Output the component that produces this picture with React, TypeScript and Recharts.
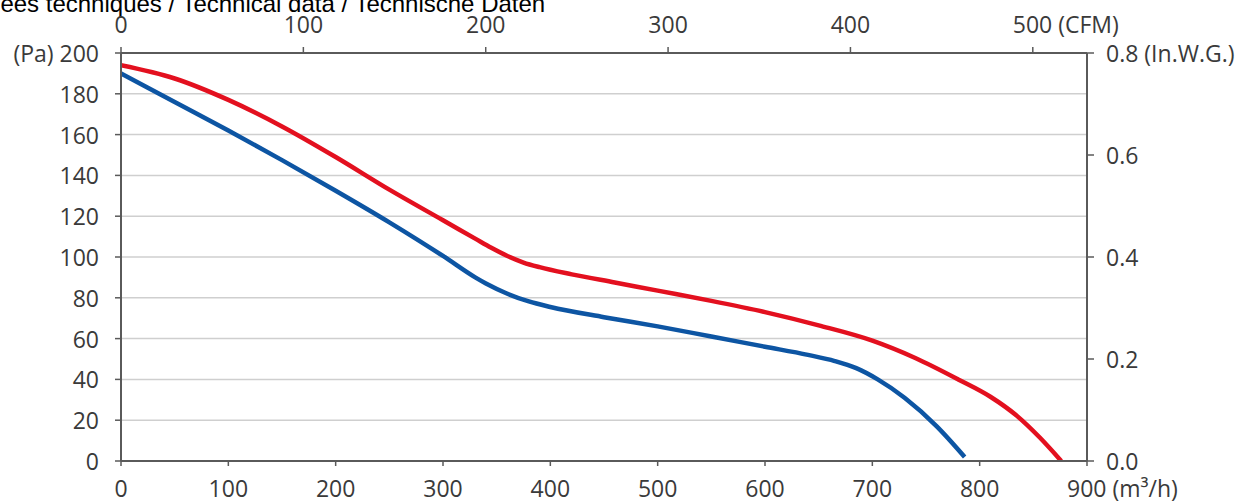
import React from 'react';
import { LineChart, Line, XAxis, YAxis, CartesianGrid } from 'recharts';

// Fan curves, airflow (m³/h) vs static pressure (Pa)
const redFlow = [0, 50, 100, 150, 200, 250, 300, 330, 345, 360, 375, 390, 420, 460, 500, 550, 600, 650, 700, 740, 780, 810, 835, 856, 876];
const redPressure = [194, 187.5, 177, 164, 149, 133, 118, 109, 104.5, 100.5, 97.3, 95, 91.5, 87.5, 83.5, 78.5, 73, 66.5, 59, 50.5, 40, 31.5, 22, 11.5, 0];

const blueFlow = [0, 50, 100, 150, 200, 250, 300, 330, 340, 360, 380, 400, 450, 500, 550, 600, 640, 665, 685, 705, 730, 760, 786];
const bluePressure = [190, 176, 162, 147.5, 132.5, 117, 100.5, 90, 87, 82, 78.2, 75.5, 70.5, 66, 61, 56, 52, 49, 45.5, 40, 31, 17, 2];

const flowTicks = [0, 100, 200, 300, 400, 500, 600, 700, 800, 900];
const cfmTicks = [0, 100, 200, 300, 400, 500];
const paTicks = [0, 20, 40, 60, 80, 100, 120, 140, 160, 180, 200];
const inwgTicks = [0, 0.2, 0.4, 0.6, 0.8];

const M3H_PER_CFM = 1.699;
const PA_PER_INWG = 250;

const redData = redFlow.map((flow, i) => ({ flow, pa: redPressure[i] }));
const blueData = blueFlow.map((flow, i) => ({ flow, pa: bluePressure[i] }));
// same red curve in imperial units, only used to drive the CFM / In.W.G. axes
const imperialData = redFlow.map((flow, i) => ({ cfm: flow / M3H_PER_CFM, inwg: redPressure[i] / PA_PER_INWG }));

const AXIS = '#5a5a5a';
const FONT = '"Open Sans", Lato, sans-serif';
const TEXT = { fontFamily: FONT, fontSize: 23, fill: '#3a3a3a' };

const BottomTick = ({ x, y, payload }: any) => {
  const v = payload.value;
  if (v === 900) {
    return <text x={x - 20} y={y + 31} textAnchor="start" {...TEXT}>900 (m³/h)</text>;
  }
  return <text x={x} y={y + 31} textAnchor="middle" {...TEXT}>{v}</text>;
};

const TopTick = ({ x, y, payload }: any) => {
  const v = payload.value;
  if (v === 500) {
    return <text x={x - 20} y={y - 14} textAnchor="start" {...TEXT}>500 (CFM)</text>;
  }
  return <text x={x} y={y - 14} textAnchor="middle" {...TEXT}>{v}</text>;
};

const LeftTick = ({ x, y, payload }: any) => {
  const v = payload.value;
  return (
    <text x={x - 16} y={y + 9} textAnchor="end" {...TEXT}>
      {v === 200 ? '(Pa) 200' : v}
    </text>
  );
};

const RightTick = ({ x, y, payload }: any) => {
  const v = payload.value;
  const label = v.toFixed(1);
  return (
    <text x={x + 12} y={y + 9} textAnchor="start" {...TEXT}>
      {v === 0.8 ? `${label} (In.W.G.)` : label}
    </text>
  );
};

export default function App() {
  return (
    <div style={{ position: 'absolute', left: 0, top: 0, width: 1252, height: 504, overflow: 'hidden', background: '#fff' }}>
      <div
        style={{
          position: 'absolute',
          left: -57,
          top: -8,
          fontFamily: '"Liberation Sans", Arial, sans-serif',
          fontSize: 24,
          lineHeight: '24px',
          whiteSpace: 'nowrap',
          color: '#000',
        }}
      >
        Données techniques / Technical data / Technische Daten
      </div>
      <LineChart width={1252} height={504} margin={{ top: 23, right: 5, bottom: 13, left: 61 }}>
        <CartesianGrid
          xAxisId="bottom"
          yAxisId="left"
          vertical={false}
          stroke="#cfcfcf"
          strokeWidth={1.5}
        />
        <XAxis
          xAxisId="bottom"
          dataKey="flow"
          type="number"
          domain={[0, 900]}
          ticks={flowTicks}
          allowDataOverflow
          height={30}
          tickSize={5}
          tickMargin={0}
          interval={0}
          axisLine={{ stroke: AXIS, strokeWidth: 2 }}
          tickLine={{ stroke: AXIS, strokeWidth: 1.5 }}
          tick={<BottomTick />}
        />
        <XAxis
          xAxisId="top"
          dataKey="cfm"
          orientation="top"
          type="number"
          domain={[0, 900 / M3H_PER_CFM]}
          ticks={cfmTicks}
          allowDataOverflow
          height={30}
          tickSize={6}
          tickMargin={0}
          interval={0}
          axisLine={{ stroke: AXIS, strokeWidth: 2 }}
          tickLine={{ stroke: AXIS, strokeWidth: 1.5 }}
          tick={<TopTick />}
        />
        <YAxis
          yAxisId="left"
          type="number"
          domain={[0, 200]}
          ticks={paTicks}
          allowDataOverflow
          width={60}
          tickSize={6}
          tickMargin={0}
          interval={0}
          axisLine={{ stroke: AXIS, strokeWidth: 2 }}
          tickLine={{ stroke: AXIS, strokeWidth: 1.5 }}
          tick={<LeftTick />}
        />
        <YAxis
          yAxisId="right"
          orientation="right"
          type="number"
          domain={[0, 0.8]}
          ticks={inwgTicks}
          allowDataOverflow
          width={160}
          tickSize={7}
          tickMargin={0}
          interval={0}
          axisLine={{ stroke: AXIS, strokeWidth: 2 }}
          tickLine={{ stroke: AXIS, strokeWidth: 1.5 }}
          tick={<RightTick />}
        />
        <Line
          xAxisId="top"
          yAxisId="right"
          data={imperialData}
          dataKey="inwg"
          type="monotone"
          stroke="none"
          dot={false}
          activeDot={false}
          isAnimationActive={false}
        />
        <Line
          xAxisId="bottom"
          yAxisId="left"
          data={redData}
          dataKey="pa"
          type="monotone"
          stroke="#e3101f"
          strokeWidth={4.5}
          dot={false}
          isAnimationActive={false}
        />
        <Line
          xAxisId="bottom"
          yAxisId="left"
          data={blueData}
          dataKey="pa"
          type="monotone"
          stroke="#0d55a3"
          strokeWidth={4.5}
          dot={false}
          isAnimationActive={false}
        />
      </LineChart>
    </div>
  );
}
